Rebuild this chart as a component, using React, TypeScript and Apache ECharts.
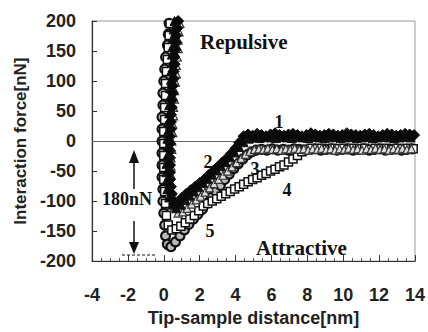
import { useEffect, useRef } from "react";
import * as echarts from "echarts";

// Curve 1: filled diamonds
const curve1: number[][] = [
  [0.8, 200], [0.75, 188], [0.7, 176], [0.7, 164], [0.65, 152], [0.6, 140], [0.6, 128], [0.55, 116],
  [0.55, 104], [0.5, 92], [0.5, 80], [0.45, 68], [0.45, 56], [0.4, 44], [0.4, 32], [0.4, 20],
  [0.35, 8], [0.35, -4], [0.35, -16], [0.35, -28], [0.35, -40], [0.35, -52], [0.35, -64], [0.4, -76],
  [0.45, -88], [0.5, -98], [0.6, -106], [0.8, -102], [1.0, -95], [1.25, -88], [1.5, -82], [1.75, -76],
  [2.0, -70], [2.25, -64], [2.5, -57], [2.75, -50], [3.0, -43], [3.25, -36], [3.5, -29], [3.75, -21],
  [4.0, -12], [4.2, -3], [4.45, 8], [4.7, 11], [4.95, 9],
  [5.2, 12], [5.45, 10], [5.7, 8], [5.95, 11], [6.2, 13], [6.45, 10], [6.7, 9], [6.95, 11],
  [7.2, 12], [7.45, 10], [7.7, 8], [7.95, 10], [8.2, 13], [8.45, 11], [8.7, 9], [8.95, 10],
  [9.2, 12], [9.45, 11], [9.7, 9], [9.95, 10], [10.2, 13], [10.45, 11], [10.7, 10], [10.95, 9],
  [11.2, 11], [11.45, 12], [11.7, 10], [11.95, 8], [12.2, 10], [12.45, 12], [12.7, 11], [12.95, 9],
  [13.2, 10], [13.45, 12], [13.7, 11], [13.95, 10],
];

// Curve 2: filled triangles
const curve2: number[][] = [
  [0.6, 200], [0.55, 186], [0.5, 172], [0.5, 158], [0.45, 144], [0.45, 130], [0.4, 116], [0.4, 102],
  [0.35, 88], [0.35, 74], [0.3, 60], [0.3, 46], [0.25, 32], [0.25, 18], [0.2, 4], [0.2, -10],
  [0.2, -24], [0.15, -38], [0.15, -52], [0.15, -66], [0.2, -80], [0.3, -94], [0.45, -106], [0.7, -112],
  [0.95, -106], [1.2, -98], [1.45, -91], [1.7, -84], [1.95, -77], [2.2, -70], [2.45, -63], [2.7, -56],
  [2.95, -49], [3.2, -42], [3.45, -35], [3.7, -27], [3.95, -19], [4.2, -10], [4.45, -2], [4.75, 4],
  [5.05, 6], [5.35, 5], [5.65, 7], [5.95, 6], [6.25, 5], [6.55, 7], [6.85, 6], [7.15, 5], [7.45, 7],
  [7.75, 6], [8.05, 5], [8.35, 7], [8.65, 6], [8.95, 5], [9.25, 6], [9.55, 7], [9.85, 5], [10.15, 6],
  [10.45, 7], [10.75, 5], [11.05, 6], [11.35, 7], [11.65, 5], [11.95, 6], [12.25, 7], [12.55, 6],
  [12.85, 5], [13.15, 6], [13.45, 7], [13.75, 6],
];

// Curve 3: open triangles
const curve3: number[][] = [
  [0.9, 196], [0.85, 182], [0.8, 168], [0.8, 154], [0.75, 140], [0.7, 126], [0.7, 112], [0.65, 98],
  [0.6, 84], [0.6, 70], [0.55, 56], [0.55, 42], [0.5, 28], [0.5, 14], [0.45, 0], [0.45, -14],
  [0.4, -28], [0.4, -42], [0.4, -56], [0.4, -70], [0.45, -84], [0.5, -98], [0.6, -110], [0.8, -120],
  [1.05, -118], [1.3, -112], [1.55, -105], [1.8, -98], [2.05, -92], [2.3, -85], [2.55, -78], [2.8, -71],
  [3.05, -64], [3.3, -57], [3.55, -50], [3.8, -43], [4.05, -36], [4.3, -29], [4.55, -22], [4.8, -17],
  [5.05, -14], [5.3, -13], [5.55, -14], [5.8, -12], [6.05, -14], [6.3, -13], [6.55, -15], [6.8, -13],
  [7.05, -14], [7.3, -12], [7.55, -14], [7.8, -13], [8.05, -15], [8.3, -13], [8.55, -14], [8.8, -12],
  [9.05, -14], [9.3, -13], [9.55, -15], [9.8, -13], [10.05, -14], [10.3, -12], [10.55, -14], [10.8, -13],
  [11.05, -15], [11.3, -13], [11.55, -14], [11.8, -12], [12.05, -14], [12.3, -13], [12.55, -15],
  [12.8, -13], [13.05, -14], [13.3, -12], [13.55, -14], [13.8, -13],
];

// Curve 4: open squares
const curve4: number[][] = [
  [0.35, 196], [0.3, 176], [0.25, 156], [0.2, 136], [0.15, 116], [0.1, 96], [0.1, 76], [0.05, 56],
  [0.05, 36], [0.0, 16], [0.0, -4], [0.0, -24], [0.0, -44], [0.0, -64], [0.05, -84], [0.1, -104],
  [0.15, -124], [0.25, -140], [0.45, -148], [0.7, -146], [0.95, -142], [1.2, -136], [1.45, -130],
  [1.7, -124], [1.95, -116], [2.2, -108], [2.45, -104], [2.7, -100], [2.95, -96], [3.2, -92],
  [3.45, -88], [3.7, -84], [3.95, -80], [4.2, -76], [4.45, -72], [4.7, -68], [4.95, -64], [5.2, -61],
  [5.45, -57], [5.7, -54], [5.95, -50], [6.2, -47], [6.45, -43], [6.7, -40], [6.95, -35], [7.2, -30],
  [7.45, -24], [7.7, -18], [7.95, -14], [8.2, -12], [8.5, -13], [8.8, -12], [9.1, -14], [9.4, -12],
  [9.7, -13], [10.0, -12], [10.3, -14], [10.6, -12], [10.9, -13], [11.2, -12], [11.5, -14],
  [11.8, -12], [12.1, -13], [12.4, -12], [12.7, -14], [13.0, -12], [13.3, -13], [13.6, -12], [13.9, -13],
];

// Curve 5: circles
const curve5: number[][] = [
  [0.3, 196], [0.25, 178], [0.2, 160], [0.1, 140], [0.05, 120], [0.0, 100], [-0.05, 80], [-0.05, 60],
  [-0.1, 40], [-0.1, 20], [-0.1, 0], [-0.1, -20], [-0.1, -40], [-0.1, -60], [-0.05, -80], [-0.05, -100],
  [0.0, -120], [0.05, -140], [0.1, -158], [0.2, -172], [0.4, -176], [0.65, -168], [0.9, -158],
  [1.15, -148], [1.4, -139], [1.65, -130], [1.9, -122], [2.15, -114], [2.4, -104], [2.65, -94],
  [2.9, -84], [3.15, -74], [3.4, -64], [3.65, -55], [3.9, -46], [4.15, -38], [4.4, -30], [4.65, -23],
  [4.9, -18], [5.15, -15], [5.45, -14], [5.75, -15], [6.05, -13], [6.35, -15], [6.65, -14], [6.95, -15],
  [7.25, -13], [7.55, -14], [7.85, -15], [8.15, -14], [8.45, -13], [8.75, -15], [9.05, -14],
  [9.35, -13], [9.65, -15], [9.95, -14], [10.25, -13], [10.55, -15], [10.85, -14], [11.15, -13],
  [11.45, -15], [11.75, -14], [12.05, -13], [12.35, -15], [12.65, -14], [12.95, -13], [13.25, -15],
  [13.55, -14], [13.85, -13],
];

const xAxisTitle = "Tip-sample distance[nm]";
const yAxisTitle = "Interaction force[nN]";
const curveLabels = ["1", "2", "3", "4", "5"];

const sansFont = "Liberation Sans";
const serifFont = "Liberation Serif";

export default function App() {
  const ref = useRef<HTMLDivElement>(null);
  useEffect(() => {
    const chart = echarts.init(ref.current!, null, { renderer: "svg" });
    const serifText = (text: string, x: number, y: number, size: number, align = "center") => ({
      type: "text",
      x,
      y,
      style: {
        text,
        font: `bold ${size}px "${serifFont}"`,
        fill: "#111",
        align,
        verticalAlign: "middle",
      },
      z: 100,
    });
    chart.setOption({
      animation: false,
      backgroundColor: "#fff",
      grid: {
        left: 92,
        right: 10,
        top: 21,
        bottom: 63,
        show: true,
        borderColor: "#999",
        borderWidth: 1,
        backgroundColor: "transparent",
      },
      xAxis: {
        type: "value",
        min: -4,
        max: 14,
        interval: 2,
        axisLine: { show: true, onZero: false, lineStyle: { color: "#333", width: 1.2 } },
        axisTick: { show: true, inside: true, length: 6, lineStyle: { color: "#333" } },
        minorTick: { show: true, splitNumber: 4, length: 3, lineStyle: { color: "#555" } },
        splitLine: { show: false },
        axisLabel: { fontSize: 18, fontWeight: "bold", color: "#222", margin: 25, fontFamily: sansFont },
        name: xAxisTitle,
        nameLocation: "middle",
        nameGap: 45,
        nameTextStyle: { fontSize: 18, fontWeight: "bold", color: "#222", fontFamily: sansFont },
      },
      yAxis: {
        type: "value",
        min: -200,
        max: 200,
        interval: 50,
        axisLine: { show: true, onZero: false, lineStyle: { color: "#333", width: 1.2 } },
        axisTick: { show: true, inside: true, length: 5, lineStyle: { color: "#333" } },
        splitLine: { show: false },
        axisLabel: { fontSize: 18, fontWeight: "bold", color: "#222", margin: 16, fontFamily: sansFont },
        name: yAxisTitle,
        nameLocation: "middle",
        nameGap: 62,
        nameRotate: 90,
        nameTextStyle: { fontSize: 17, fontWeight: "bold", color: "#222", fontFamily: sansFont },
      },
      series: [
        {
          name: curveLabels[4],
          type: "scatter",
          data: curve5,
          symbol: "circle",
          symbolSize: 9,
          itemStyle: { color: "#bbb", borderColor: "#111", borderWidth: 2.2, opacity: 1 },
          z: 2,
        },
        {
          name: curveLabels[3],
          type: "scatter",
          data: curve4,
          symbol: "rect",
          symbolSize: 8,
          itemStyle: { color: "#fff", borderColor: "#111", borderWidth: 1.5, opacity: 1 },
          z: 3,
        },
        {
          name: curveLabels[2],
          type: "scatter",
          data: curve3,
          symbol: "triangle",
          symbolSize: 8,
          itemStyle: { color: "#ddd", borderColor: "#333", borderWidth: 1.2, opacity: 1 },
          z: 4,
        },
        {
          name: curveLabels[1],
          type: "scatter",
          data: curve2,
          symbol: "triangle",
          symbolSize: 9,
          itemStyle: { color: "#111", borderColor: "#111", borderWidth: 1, opacity: 1 },
          z: 5,
        },
        {
          name: curveLabels[0],
          type: "scatter",
          data: curve1,
          symbol: "diamond",
          symbolSize: 11,
          itemStyle: { color: "#0a0a0a", borderColor: "#0a0a0a", borderWidth: 1, opacity: 1 },
          z: 6,
          markLine: {
            silent: true,
            symbol: "none",
            label: { show: false },
            lineStyle: { color: "#666", width: 1, type: "solid" },
            data: [{ yAxis: 0 }],
            z: 1,
          },
        },
      ],
      graphic: [
        serifText("Repulsive", 200, 42, 21, "left"),
        serifText("Attractive", 256, 248, 21, "left"),
        serifText("180nN", 102, 199, 18, "left"),
        serifText(curveLabels[0], 279, 122, 18),
        serifText(curveLabels[1], 208, 162, 18),
        serifText(curveLabels[2], 255, 169, 18),
        serifText(curveLabels[3], 287, 190, 18),
        serifText(curveLabels[4], 210, 231, 18),
        { type: "line", shape: { x1: 134, y1: 189, x2: 134, y2: 160 }, style: { stroke: "#111", lineWidth: 1.5 } },
        { type: "polygon", shape: { points: [[129, 163], [139, 163], [134, 150]] }, style: { fill: "#111" } },
        { type: "line", shape: { x1: 134, y1: 221, x2: 134, y2: 244 }, style: { stroke: "#111", lineWidth: 1.5 } },
        { type: "polygon", shape: { points: [[129, 242], [139, 242], [134, 254]] }, style: { fill: "#111" } },
        { type: "line", shape: { x1: 122, y1: 255, x2: 156, y2: 255 }, style: { stroke: "#111", lineWidth: 1.2, lineDash: [3, 2] } },
      ],
    });
    return () => chart.dispose();
  }, []);
  return (
    <div
      ref={ref}
      style={{ position: "fixed", left: 0, top: 0, width: 428, height: 332, background: "#fff" }}
    />
  );
}
